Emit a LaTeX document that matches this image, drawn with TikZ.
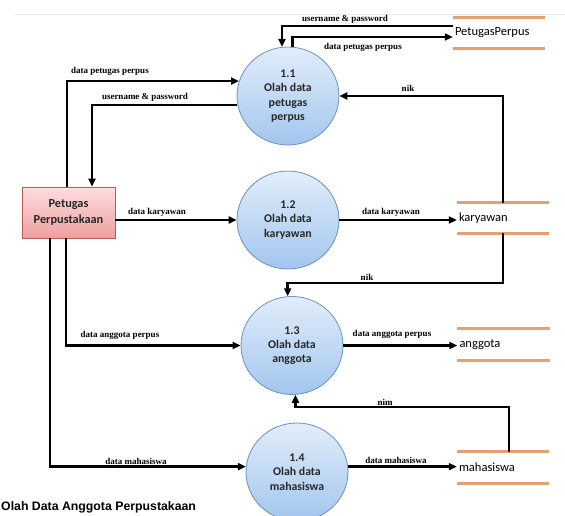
\documentclass[tikz,border=0pt]{standalone}
\usepackage{fontspec}
\setmainfont{Liberation Serif}
\newfontfamily\calibri{Carlito}
\newfontfamily\arialfont{Liberation Sans}
\usepackage{tikz}
\usetikzlibrary{arrows.meta,calc,shapes.geometric}

\definecolor{proctop}{RGB}{226,237,250}
\definecolor{procbot}{RGB}{162,198,238}
\definecolor{procline}{RGB}{108,144,190}
\definecolor{enttop}{RGB}{252,222,222}
\definecolor{entbot}{RGB}{238,160,160}
\definecolor{entline}{RGB}{190,88,86}
\definecolor{storeor}{RGB}{228,160,112}
\definecolor{topgray}{RGB}{232,232,232}
\definecolor{txtdark}{RGB}{40,40,40}

\begin{document}
\begin{tikzpicture}[x=1pt,y=-1pt,
	proc/.style={ellipse, draw=procline, line width=0.8pt, top color=proctop, bottom color=procbot,
		minimum width=102pt, minimum height=98pt, inner sep=0pt, align=center, text=txtdark,
		font=\calibri\bfseries\fontsize{11.8}{14.3}\selectfont},
	ent/.style={rectangle, draw=entline, line width=0.8pt, top color=enttop, bottom color=entbot,
		minimum width=93pt, minimum height=51pt, inner sep=0pt, align=center, text=txtdark,
		font=\calibri\bfseries\fontsize{12.3}{16}\selectfont},
	store/.style={rectangle, minimum height=31pt, text width=88pt, inner sep=2pt, align=left,
		font=\calibri\fontsize{12.5}{14}\selectfont},
	storeline/.style={draw=storeor, line width=2.8pt},
	flow/.style={-{Triangle[length=8pt,width=7pt]}, line width=2.5pt},
	lbl/.style={font=\bfseries\fontsize{9}{10}\selectfont, inner sep=0pt}]
	\useasboundingbox (0,0) rectangle (565,516);
	\draw[topgray, line width=0.6pt] (15,14) -- (565,14);

	% processes, entity and stores
	\node[proc] (p11) at (288,96) {1.1\\Olah data\\petugas\\perpus};
	\node[proc] (p12) at (288,220) {1.2\\Olah data\\karyawan};
	\node[proc] (p13) at (292,345.5) {1.3\\Olah data\\anggota};
	\node[proc] (p14) at (297,472) {1.4\\Olah data\\mahasiswa};
	\node[ent] (ent) at (68.5,212.5) {Petugas\\Perpustakaan};
	\node[store] (pp) at (499,33) {PetugasPerpus};
	\node[store, minimum height=30pt] (kar) at (503,218) {karyawan};
	\node[store] (ang) at (503.5,344.5) {anggota};
	\node[store] (mah) at (503,467.5) {mahasiswa};
	\foreach \s in {pp,kar,ang,mah}
		\draw[storeline] (\s.north west) -- (\s.north east) (\s.south west) -- (\s.south east);

	% flows
	\draw[flow] ($(pp.west)+(0,-7)$) -| (p11.97);
	\draw[flow] (p11.85) |- ($(pp.west)+(0,4)$);
	\draw[flow] ($(ent.north)+(-1.5,0)$) |- (p11.163);
	\draw[flow] (p11.190) -| ($(ent.north)+(23.5,0)$);
	\draw[flow] (kar.north) |- (p11.east);
	\draw[flow] (ent.east |- p12.west) -- (p12.west);
	\draw[flow] (p12.east) -- (p12.east -| kar.west);
	\draw[flow] (kar.south) -- ++(0,50) -| (p13.95);
	\draw[flow] ($(ent.south)+(-2.5,0)$) |- (p13.west);
	\draw[flow] (p13.east) -- (p13.east -| ang.west);
	\draw[flow] ($(mah.north)+(6,0)$) -- ++(0,-45) -| (p13.274);
	\draw[flow] ($(ent.south)+(-18.5,0)$) |- (p14.174);
	\draw[flow] (p14.6) -- (p14.6 -| mah.west);

	% flow labels
	\node[lbl] (l1) at (345,19) {username \& password};
	\node[lbl] (l2) at (363,47) {data petugas perpus};
	\node[lbl] (l3) at (110,71) {data petugas perpus};
	\node[lbl] (l4) at (145,97) {username \& password};
	\node[lbl] (l5) at (408,88) {nik};
	\node[lbl] (l6) at (157,212) {data karyawan};
	\node[lbl] (l7) at (391,212) {data karyawan};
	\node[lbl] (l8) at (367,277) {nik};
	\node[lbl] (l9) at (120,335) {data anggota perpus};
	\node[lbl] (l10) at (392,334) {data anggota perpus};
	\node[lbl] (l11) at (385,402) {nim};
	\node[lbl] (l12) at (136,461) {data mahasiswa};
	\node[lbl] (l13) at (396,460) {data mahasiswa};

	\node[anchor=west, inner sep=1pt, font=\arialfont\bfseries\fontsize{12.3}{14}\selectfont] (judul) at (0,507) {Olah Data Anggota Perpustakaan};
\end{tikzpicture}
\end{document}
